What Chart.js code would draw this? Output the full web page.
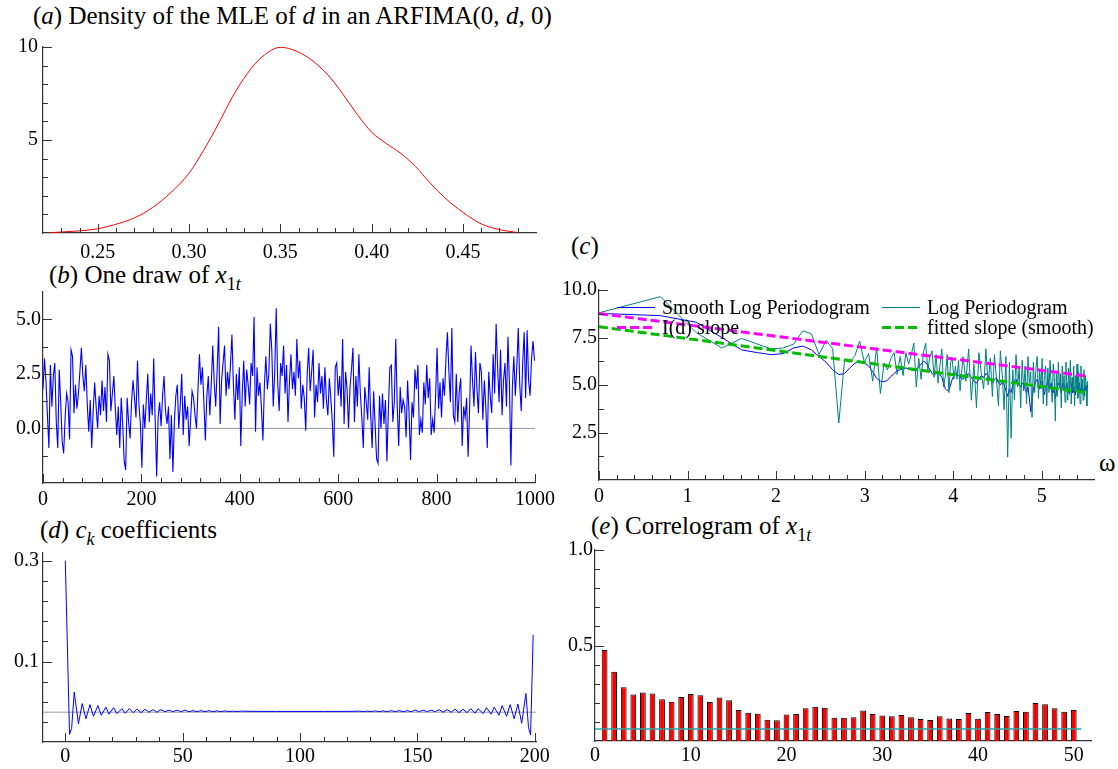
<!DOCTYPE html>
<html>
<head>
<meta charset="utf-8">
<script src="https://cdn.jsdelivr.net/npm/chart.js@4.4.1/dist/chart.umd.min.js"></script>
<style>
  body { margin: 0; width: 1118px; height: 769px; position: relative; overflow: hidden; background: #fff; font-family: "Liberation Serif", serif; }
  canvas { position: absolute; }
  .ttl { position: absolute; font-size: 25px; line-height: 25px; white-space: nowrap; color: #000; }
  .ttl sub { font-size: 18px; vertical-align: -7px; line-height: 0; }
</style>
</head>
<body>
<div class="ttl" style="left:33px;top:3px">(<i>a</i>) Density of the MLE of <i>d</i> in an ARFIMA(0, <i>d</i>, 0)</div>
<div class="ttl" style="left:49px;top:262px">(<i>b</i>) One draw of <i>x</i><sub>1<i>t</i></sub></div>
<div class="ttl" style="left:571px;top:233px">(<i>c</i>)</div>
<div class="ttl" style="left:1099px;top:450px">ω</div>
<div class="ttl" style="left:40px;top:517px">(<i>d</i>) <i>c</i><sub><i>k</i></sub> coefficients</div>
<div class="ttl" style="left:591px;top:513px">(<i>e</i>) Correlogram of <i>x</i><sub>1<i>t</i></sub></div>

<canvas id="pa" width="560" height="232" style="left:0;top:30px"></canvas>
<canvas id="pb" width="560" height="250" style="left:0;top:262px"></canvas>
<canvas id="pc" width="558" height="250" style="left:560px;top:262px"></canvas>
<canvas id="pd" width="560" height="257" style="left:0;top:512px"></canvas>
<canvas id="pe" width="558" height="257" style="left:560px;top:512px"></canvas>

<script>
// (a) density of the MLE of d
const densityD = [0.224, 0.236, 0.25, 0.262, 0.27, 0.28, 0.29, 0.30, 0.308, 0.316, 0.324, 0.332, 0.34, 0.35, 0.356,
  0.366, 0.376, 0.384, 0.392, 0.40, 0.408, 0.416, 0.424, 0.432, 0.44, 0.45, 0.46, 0.47, 0.479];
const densityVal = [0.02, 0.09, 0.23, 0.53, 0.81, 1.37, 2.17, 3.22, 4.45, 5.86, 7.36, 8.59, 9.47, 9.98, 9.88,
  9.38, 8.5, 7.5, 6.39, 5.42, 4.81, 4.28, 3.57, 2.69, 1.90, 1.11, 0.49, 0.18, 0.04];

// (b) one draw of x_1t, read every third observation
const drawStep = 3;
const drawVal = [
  1.8, 3.2, 2.2, 0.6, -0.9, 2.9, 1.0, 2.4, 3.0, 0.3,
  -0.9, 2.7, 1.2, -0.6, -1.15, 0.5, 1.6, 1.2, -0.5, 3.6,
  3.3, 0.7, 2.0, 0.9, 1.6, 2.6, 3.7, 2.4, 1.7, 2.9,
  1.1, -0.15, 1.3, -0.9, 0.8, 2.1, 1.0, 0.0, 1.5, 0.6,
  2.2, 0.8, 1.9, 0.3, 3.4, 3.1, 0.8, 1.6, 2.4, 0.9,
  -0.3, 1.0, -0.9, 1.4, 0.2, -1.5, -1.9, 1.4, 0.3, -0.46,
  1.2, 2.2, 1.4, 0.5, 3.1, 1.1, 0.2, -1.8, 1.1, 0.0,
  1.3, 2.5, 0.3, 1.6, 0.6, 3.2, 0.4, -2.2, 0.5, 1.2,
  0.1, 1.5, 2.4, 0.8, 0.2, 1.0, -1.4, 0.6, -2.0, 0.3,
  1.5, 2.0, 0.0, 1.1, 2.5, -0.3, 1.5, 0.4, 1.0, -0.8,
  0.4, 1.7, 1.4, 0.6, 0.0, 1.8, 3.4, 2.0, 2.8, 1.2,
  -0.55, 1.5, 2.4, 0.6, 2.0, 3.8, 2.1, 1.0, 2.7, 4.66,
  0.2, 2.2, 3.0, 3.8, 1.5, 2.6, 1.8, 2.9, 4.3, 2.0,
  0.4, 2.5, 1.3, 2.8, -0.8, 1.6, 3.1, 1.0, 2.7, 2.0,
  1.1, 3.0, 2.4, 5.1, -0.15, 2.8, 1.5, 2.1, 0.9, -0.55,
  2.0, 3.3, 1.8, 2.5, 4.8, 3.6, 1.0, 2.6, 5.5, 2.1,
  0.8, 3.0, 2.4, 3.8, 1.6, 2.9, 0.3, 2.2, 3.4, 1.8,
  2.6, 1.5, 4.1, 2.3, 3.1, 0.9, 2.0, 1.4, -0.1, 2.5,
  3.7, 1.7, 2.6, 3.6, 0.5, 2.0, 1.2, 3.0, 1.6, 2.4,
  0.9, 2.8, 1.3, 0.6, 2.3, 1.4, 0.3, -1.3, 2.8, 3.0,
  1.5, 2.4, 1.0, 4.1, 0.2, 2.6, 1.8, 0.0, 1.9, 2.7,
  3.7, 0.3, 2.4, 1.0, 3.4, 1.6, 0.5, -0.9, 1.9, 1.2,
  0.4, 2.8, 0.6, -0.9, 1.7, 0.2, -1.4, -1.6, 1.5, 0.0,
  1.6, 0.2, 1.3, -1.5, 0.9, 2.8, 2.9, 0.3, 1.2, 4.1,
  1.0, -0.8, 1.9, 0.7, 1.3, 1.0, -0.4, 2.2, 0.7, -1.45,
  1.2, 0.5, 2.7, 1.8, 2.9, -0.3, 0.4, -0.2, 2.1, 1.1,
  2.9, 1.4, 2.3, -0.3, 0.4, -0.2, 1.5, 3.7, 0.9, 2.1,
  0.5, 2.3, 1.5, 3.2, 4.4, 2.6, 1.2, 4.6, 0.6, 0.3,
  2.5, 0.3, 1.7, 2.3, -0.8, 1.0, 0.5, 1.4, -1.3, 0.8,
  3.8, 2.2, 1.0, 3.5, 1.8, 0.7, 3.0, 2.6, 0.4, 2.2,
  1.0, -0.9, 2.6, 1.5, 0.7, 3.4, 1.6, 4.8, 2.8, 1.2,
  3.6, 0.6, 2.2, 3.0, 1.0, 4.2, 2.1, -1.7, 1.9, 3.3,
  1.5, 2.8, 4.6, 2.0, 0.8, 3.0, 4.4, 1.4, 4.5, 2.2,
  1.5, 3.2, 4.0, 3.1
];

// (c) log periodogram at Fourier frequency j, plotted against log(j)
const pgramJ = [];
for (let j = 1; j <= 59; j++) pgramJ.push(j);
for (let j = 61; j <= 249; j += 2) pgramJ.push(j);
const logPgram = [
  8.8, 9.65, 7.75, 6.95, 7.45, 7.15, 6.9, 6.95, 7.15, 7.85,
  7.7, 6.6, 7.35, 6.9, 3.0, 6.3, 6.2, 6.55, 7.3, 6.2,
  6.65, 5.2, 7.0, 4.55, 6.15, 5.8, 6.4, 6.7, 5.55, 6.5,
  5.5, 6.7, 6.1, 6.6, 7.2, 4.9, 6.4, 5.3, 6.7, 7.2,
  5.8, 6.5, 6.8, 5.4, 6.6, 5.1, 6.0, 6.9, 4.9, 5.5,
  6.6, 4.6, 6.2, 6.4, 5.3, 6.0, 5.3, 6.3, 4.7,
  6.5, 5.2, 6.9, 4.2, 6.1, 3.8, 6.7, 5.6, 4.8, 6.9,
  5.0, 6.4, 4.4, 6.6, 5.3, 3.9, 6.8, 5.5, 3.7, 6.5,
  1.2, 6.2, 2.2, 5.8, 4.2, 6.6, 4.9, 5.9, 3.8, 6.3,
  4.7, 6.0, 4.0, 6.5, 5.1, 5.7, 3.3, 6.2, 4.6, 5.9,
  6.5, 4.3, 5.8, 4.8, 6.4, 4.0, 5.5, 6.0, 3.9, 5.9,
  4.6, 6.3, 5.0, 4.1, 6.1, 5.4, 3.1, 5.7, 4.4, 6.2,
  4.9, 5.6, 3.8, 6.0, 4.8, 5.5, 4.1, 6.2, 5.2, 4.2,
  5.9, 4.5, 6.3, 4.0, 5.4, 4.7, 6.0, 3.9, 5.5, 4.8,
  6.1, 4.3, 5.7, 4.9, 4.0, 6.0, 4.6, 5.3, 4.2, 5.8,
  4.4, 5.5, 5.0, 3.9, 5.2
];
const smoothPgram = [
  8.77, 8.65, 8.3, 7.5, 6.85, 6.7, 6.6, 6.65, 6.95, 7.05,
  6.85, 6.5, 6.2, 5.8, 5.55, 5.6, 5.9, 6.15, 6.25, 6.15,
  6.0, 5.7, 5.35, 5.2, 5.17, 5.25, 5.45, 5.6, 5.75, 5.8,
  5.85, 5.9, 5.85, 5.8, 5.75, 5.8, 5.95, 6.1, 6.25, 6.2,
  6.0, 5.8, 5.6, 5.55, 5.6, 5.6, 5.55, 5.4, 5.1, 4.8,
  4.7, 4.75, 5.0, 5.3, 5.5, 5.6, 5.55, 5.5, 5.4,
  5.3, 5.5, 5.6, 5.4, 5.2, 5.1, 5.3, 5.5, 5.4, 5.6,
  5.5, 5.3, 5.1, 5.3, 5.4, 5.1, 5.0, 5.2, 5.0, 4.7,
  4.4, 4.8, 4.6, 5.0, 5.2, 5.3, 5.1, 5.0, 4.9, 5.1,
  5.0, 4.8, 4.6, 4.9, 4.3, 3.6, 4.2, 4.8, 5.0, 5.2,
  5.3, 5.0, 4.8, 5.1, 5.2, 4.7, 4.5, 4.9, 5.0, 5.2,
  5.0, 4.8, 5.1, 4.9, 4.6, 4.8, 4.3, 4.6, 4.9, 5.1,
  5.0, 4.8, 4.6, 4.9, 5.1, 5.0, 4.7, 4.9, 5.1, 4.8,
  4.6, 4.9, 5.2, 5.0, 4.8, 4.6, 4.9, 4.7, 4.5, 4.8,
  5.0, 4.7, 4.9, 5.1, 4.8, 4.6, 4.9, 4.7, 4.5, 4.8,
  4.9, 4.7, 5.0, 4.8, 4.9
];
const slopeJ = [1, 250];
const idSlope = [8.76, 5.46];
const fittedSlope = [8.07, 4.59];

// (d) c_k coefficients (turning points of the curve)
const ckLag = [0, 1.8, 2.7, 3.8, 5.6, 7.2, 8.8, 10.5, 12.0, 13.9, 15.3, 17.3, 18.6, 20.6, 22.0, 24.1, 25.5,
  27.3, 28.9, 30.6, 32.3, 34.0, 35.6, 37.4, 39.0, 40.8, 42.4, 44.2, 45.8, 47.6, 49.2, 51.0, 52.7, 54.4,
  56.1, 57.8, 59.5, 61.2, 62.9, 64.6, 66.3, 68.0, 69.7, 71.4, 73.1, 74.8,
  80, 90, 100, 110, 120,
  125.2, 126.9, 128.6, 130.3, 132.0, 133.7, 135.4, 137.1, 138.8, 140.5, 142.2, 143.9, 145.6, 147.3,
  149.0, 150.8, 152.4, 154.2, 155.8, 157.6, 159.2, 161.0, 162.6, 164.4, 166.0, 167.7, 169.4, 171.1,
  172.7, 174.5, 175.9, 178.0, 179.4, 181.4, 182.7, 184.7, 186.1, 188.0, 189.5, 191.2, 192.8, 194.4,
  196.2, 197.3, 198.2, 199.3];
const ckVal = [0.30, -0.044, -0.032, 0.040, -0.023, 0.017, -0.013, 0.015, -0.008, 0.013, -0.006, 0.010, -0.004,
  0.009, -0.003, 0.007, -0.002, 0.007, -0.001, 0.006, -0.001, 0.006, 0.000, 0.005, 0.000, 0.005, 0.001,
  0.004, 0.001, 0.004, 0.001, 0.004, 0.001, 0.003, 0.001, 0.003, 0.001, 0.003, 0.001, 0.0025, 0.0012,
  0.0025, 0.0012, 0.002, 0.0013, 0.002,
  0.0016, 0.0015, 0.0015, 0.0015, 0.0016,
  0.002, 0.0013, 0.002, 0.0012, 0.0025, 0.0012, 0.0025, 0.001, 0.003, 0.001, 0.003, 0.001, 0.003, 0.001,
  0.004, 0.001, 0.004, 0.001, 0.004, 0.001, 0.005, 0.000, 0.005, 0.000, 0.006, -0.001, 0.006, -0.001,
  0.007, -0.002, 0.007, -0.003, 0.009, -0.004, 0.010, -0.006, 0.013, -0.008, 0.015, -0.013, 0.016, -0.022,
  0.037, -0.030, -0.045, 0.153];

// (e) correlogram of x_1t
const acfVal = [0.476, 0.362, 0.282, 0.244, 0.254, 0.249, 0.218, 0.206, 0.230, 0.246,
  0.240, 0.204, 0.228, 0.214, 0.162, 0.148, 0.143, 0.111, 0.108, 0.139,
  0.141, 0.171, 0.179, 0.174, 0.122, 0.122, 0.125, 0.160, 0.141, 0.134,
  0.129, 0.136, 0.125, 0.115, 0.110, 0.129, 0.118, 0.115, 0.146, 0.117,
  0.152, 0.141, 0.131, 0.157, 0.153, 0.199, 0.193, 0.172, 0.153, 0.162];
const acfLag = acfVal.map((v, i) => i + 1);
const acfBand = 0.063;

// tick labels
const densityTicks = [0.25, 0.30, 0.35, 0.40, 0.45];
const drawTicks = [0, 200, 400, 600, 800, 1000];
const omegaTicks = [0, 1, 2, 3, 4, 5];
const ckTicks = [0, 50, 100, 150, 200];
const acfTicks = [0, 10, 20, 30, 40, 50];

function stepList(from, to, step) {
  const out = [];
  for (let v = from; v <= to + step / 1000; v += step) out.push(+v.toFixed(6));
  return out;
}

// short ticks drawn inside the plot, as in the original
const tickSpecs = {
  pa: { xMajor: densityTicks, xMinor: stepList(0.23, 0.48, 0.01), yMajor: [5, 10], yMinor: stepList(1, 9, 1) },
  pb: { xMajor: drawTicks, xMinor: stepList(40, 960, 40), yMajor: [0, 2.5, 5], yMinor: [-1.25, 1.25, 3.75] },
  pc: { xLog: true, xMajor: omegaTicks, xMinor: stepList(0.2, 5.4, 0.2), yMajor: [2.5, 5, 7.5, 10], yMinor: [1.25, 3.75, 6.25, 8.75] },
  pd: { xMajor: ckTicks, xMinor: stepList(10, 190, 10), yMajor: [0.1, 0.3], yMinor: [-0.02, 0.02, 0.06, 0.14, 0.18, 0.22, 0.26] },
  pe: { xMajor: [], xMinor: [], yMajor: [0.5, 1.0], yMinor: [0.1, 0.2, 0.3, 0.4, 0.6, 0.7, 0.8, 0.9] }
};

const innerTicks = {
  id: 'innerTicks',
  afterDraw(chart) {
    const spec = tickSpecs[chart.canvas.id];
    if (!spec) return;
    const { ctx, chartArea: a, scales } = chart;
    ctx.save();
    ctx.strokeStyle = '#333';
    ctx.lineWidth = 1;
    ctx.beginPath();
    const drawX = (list, len) => list.forEach(v => {
      const p = Math.round(scales.x.getPixelForValue(spec.xLog ? Math.exp(v) : v)) + 0.5;
      ctx.moveTo(p, a.bottom);
      ctx.lineTo(p, a.bottom - len);
    });
    const drawY = (list, len) => list.forEach(v => {
      const p = Math.round(scales.y.getPixelForValue(v)) + 0.5;
      ctx.moveTo(a.left, p);
      ctx.lineTo(a.left + len, p);
    });
    drawX(spec.xMinor, 5);
    drawX(spec.xMajor, 9);
    drawY(spec.yMinor, 5);
    drawY(spec.yMajor, 9);
    ctx.stroke();
    ctx.restore();
  }
};

// legend inside panel (c), two columns
const legendSpec = { colX: [18, 283], rowY: [17.5, 37.5], sample: 38, gap: 7 };
const insideLegend = {
  id: 'insideLegend',
  afterDraw(chart) {
    if (chart.canvas.id !== 'pc') return;
    const { ctx, chartArea: a } = chart;
    ctx.save();
    ctx.font = '20px "Liberation Serif"';
    ctx.textBaseline = 'middle';
    ctx.fillStyle = '#000';
    chart.data.datasets.forEach((ds, i) => {
      const x = a.left + legendSpec.colX[i % 2];
      const y = a.top + legendSpec.rowY[Math.floor(i / 2)];
      ctx.strokeStyle = ds.borderColor;
      ctx.lineWidth = ds.borderWidth;
      ctx.setLineDash(ds.borderDash || []);
      ctx.beginPath();
      ctx.moveTo(x, y);
      ctx.lineTo(x + legendSpec.sample, y);
      ctx.stroke();
      ctx.setLineDash([]);
      ctx.fillText(ds.label, x + legendSpec.sample + legendSpec.gap, y + 1);
    });
    ctx.restore();
  }
};

Chart.register(innerTicks, insideLegend);

const tickFont = { family: '"Liberation Serif"', size: 20 };

function axes(o) {
  return {
    x: {
      type: o.xLog ? 'logarithmic' : 'linear',
      min: o.xMin, max: o.xMax, offset: false,
      grid: { display: false, drawTicks: false },
      border: { display: true, color: '#333', width: 1.2 },
      afterFit: s => { s.height = o.xh; },
      afterBuildTicks: s => { s.ticks = o.xTicks.map(v => ({ value: o.xLog ? Math.exp(v) : v })); },
      ticks: {
        padding: o.xPad, color: '#000', font: tickFont, autoSkip: false, maxRotation: 0,
        callback: v => o.xLog ? String(Math.round(Math.log(v))) : v.toFixed(o.xDec)
      }
    },
    y: {
      min: o.yMin, max: o.yMax,
      grid: { display: false, drawTicks: false },
      border: { display: true, color: '#333', width: 1.2 },
      afterFit: s => { s.width = o.yw; },
      afterBuildTicks: s => { s.ticks = o.yTicks.map(v => ({ value: v })); },
      ticks: { padding: o.yPad, color: '#000', font: tickFont, callback: v => v.toFixed(o.yDec) }
    }
  };
}

function baseOptions(o) {
  return {
    responsive: false,
    animation: false,
    devicePixelRatio: 1,
    events: [],
    layout: { padding: { top: o.padTop, right: o.padRight, left: 0, bottom: 0 } },
    plugins: { legend: { display: false }, tooltip: { enabled: false } },
    scales: axes(o),
    elements: { point: { radius: 0 } }
  };
}

const pts = (xs, ys) => xs.map((x, i) => ({ x: x, y: ys[i] }));

// (a)
new Chart(document.getElementById('pa'), {
  type: 'line',
  data: { datasets: [{ data: pts(densityD, densityVal), borderColor: '#ff0000', borderWidth: 1, cubicInterpolationMode: 'monotone' }] },
  options: baseOptions({ padTop: 13, padRight: 24, xh: 29, yw: 43, xMin: 0.22, xMax: 0.49, yMin: 0, yMax: 10,
    xTicks: densityTicks, xDec: 2, xPad: 8, yTicks: [5, 10], yDec: 0, yPad: 5 })
});

// (b)
const drawT = drawVal.map((v, i) => i * drawStep);
new Chart(document.getElementById('pb'), {
  type: 'line',
  data: { datasets: [
    { data: pts(drawT, drawVal), borderColor: '#0000ff', borderWidth: 1.1, order: 0 },
    { data: pts([0, 1000], [0, 0]), borderColor: '#999', borderWidth: 1, order: 1 }
  ] },
  options: baseOptions({ padTop: 30, padRight: 25, xh: 29, yw: 43, xMin: 0, xMax: 1000, yMin: -2.5, yMax: 6.25,
    xTicks: drawTicks, xDec: 0, xPad: 5, yTicks: [0, 2.5, 5], yDec: 1, yPad: 2 })
});

// (c)
new Chart(document.getElementById('pc'), {
  type: 'line',
  data: { datasets: [
    { label: 'Smooth Log Periodogram', data: pts(pgramJ, smoothPgram), borderColor: '#0000ff', borderWidth: 1, order: 3 },
    { label: 'Log Periodogram', data: pts(pgramJ, logPgram), borderColor: '#008080', borderWidth: 1, order: 2 },
    { label: 'I(d) slope', data: pts(slopeJ, idSlope), borderColor: '#ff00ff', borderWidth: 3, borderDash: [9, 4], order: 0 },
    { label: 'fitted slope (smooth)', data: pts(slopeJ, fittedSlope), borderColor: '#00bb00', borderWidth: 3, borderDash: [9, 4], order: 1 }
  ] },
  options: baseOptions({ padTop: 28, padRight: 24, xh: 32, yw: 39, xLog: true, xMin: 1, xMax: Math.exp(5.59), yMin: 0, yMax: 10,
    xTicks: omegaTicks, xPad: 5, yTicks: [2.5, 5, 7.5, 10], yDec: 1, yPad: 2 })
});

// (d)
new Chart(document.getElementById('pd'), {
  type: 'line',
  data: { datasets: [
    { data: pts(ckLag, ckVal), borderColor: '#0000ff', borderWidth: 1, order: 0 },
    { data: pts([-9.5, 200.5], [0, 0]), borderColor: '#999', borderWidth: 1, order: 1 }
  ] },
  options: baseOptions({ padTop: 41, padRight: 24, xh: 27, yw: 43, xMin: -9.5, xMax: 200.5, yMin: -0.059, yMax: 0.315,
    xTicks: ckTicks, xDec: 0, xPad: 3, yTicks: [0.1, 0.3], yDec: 1, yPad: 4 })
});

// (e)
new Chart(document.getElementById('pe'), {
  type: 'bar',
  data: { datasets: [
    { type: 'line', data: pts([0, 50.8], [acfBand, acfBand]), borderColor: '#2aa6a6', borderWidth: 1.5, order: 0 },
    { type: 'bar', data: pts(acfLag, acfVal), backgroundColor: '#ff0000', borderColor: '#000', borderWidth: 1,
      barPercentage: 0.6, categoryPercentage: 1.0, order: 1 }
  ] },
  options: baseOptions({ padTop: 38, padRight: 27, xh: 28, yw: 35, xMin: 0, xMax: 51.8, yMin: 0, yMax: 1.0,
    xTicks: acfTicks, xDec: 0, xPad: 3, yTicks: [0.5, 1.0], yDec: 1, yPad: 2 })
});
</script>
</body>
</html>
